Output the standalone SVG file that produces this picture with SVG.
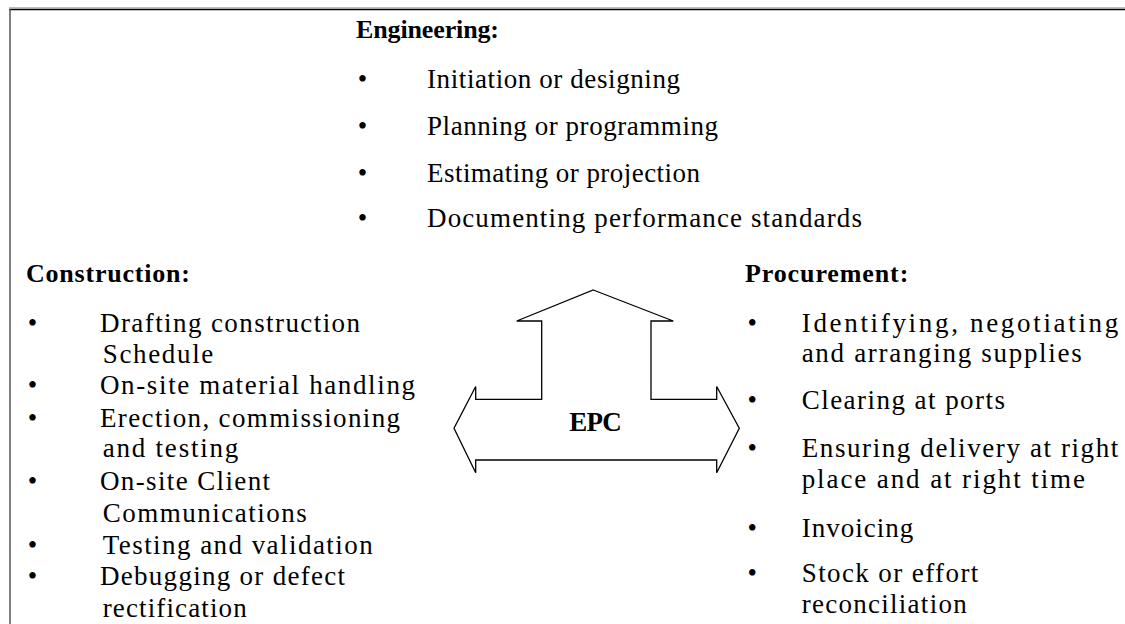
<svg xmlns="http://www.w3.org/2000/svg" width="1125" height="624" viewBox="0 0 1125 624">
<style>
text{font-family:"Liberation Serif","Times New Roman",serif;fill:#000}
.h{font-weight:bold;font-size:26px}
.t{font-size:27px}
.b{font-size:27px;text-anchor:middle}
.epc{font-weight:bold;font-size:27px;text-anchor:middle}
</style>
<rect width="1125" height="624" fill="#fff"/>
<g id="frame">
<line x1="9" y1="7.8" x2="1125" y2="7.8" stroke="#a0a0a0" stroke-width="1"/>
<line x1="9" y1="9.5" x2="1125" y2="9.5" stroke="#000" stroke-width="1.6"/>
<line x1="10" y1="9" x2="10" y2="624" stroke="#555" stroke-width="1.5"/>
</g>
<g id="engineering">
<text class="h" x="356" y="38" textLength="143" lengthAdjust="spacing">Engineering:</text>
<text class="b" x="362.5" y="88">•</text>
<text class="t" x="427" y="88" textLength="253" lengthAdjust="spacing">Initiation or designing</text>
<text class="b" x="362.5" y="135">•</text>
<text class="t" x="427" y="135" textLength="291" lengthAdjust="spacing">Planning or programming</text>
<text class="b" x="362.5" y="181.5">•</text>
<text class="t" x="427" y="181.5" textLength="273" lengthAdjust="spacing">Estimating or projection</text>
<text class="b" x="362.5" y="226.5">•</text>
<text class="t" x="427" y="226.5" textLength="435" lengthAdjust="spacing">Documenting performance standards</text>
</g>
<g id="construction">
<text class="h" x="26" y="282.3" textLength="164" lengthAdjust="spacing">Construction:</text>
<text class="b" x="32.5" y="331.7">•</text>
<text class="t" x="100" y="331.7" textLength="260" lengthAdjust="spacing">Drafting construction</text>
<text class="t" x="102.7" y="362.7" textLength="110.6" lengthAdjust="spacing">Schedule</text>
<text class="b" x="32.5" y="394.3">•</text>
<text class="t" x="100" y="394.3" textLength="315" lengthAdjust="spacing">On-site material handling</text>
<text class="b" x="32.5" y="426.7">•</text>
<text class="t" x="100" y="426.7" textLength="300" lengthAdjust="spacing">Erection, commissioning</text>
<text class="t" x="102.7" y="457.3" textLength="135.6" lengthAdjust="spacing">and testing</text>
<text class="b" x="32.5" y="490">•</text>
<text class="t" x="100" y="490" textLength="170" lengthAdjust="spacing">On-site Client</text>
<text class="t" x="102.7" y="521.7" textLength="204" lengthAdjust="spacing">Communications</text>
<text class="b" x="32.5" y="554.3">•</text>
<text class="t" x="102.7" y="554.3" textLength="270" lengthAdjust="spacing">Testing and validation</text>
<text class="b" x="32.5" y="585">•</text>
<text class="t" x="100" y="585" textLength="245" lengthAdjust="spacing">Debugging or defect</text>
<text class="t" x="102.7" y="616.7" textLength="144" lengthAdjust="spacing">rectification</text>
</g>
<g id="procurement">
<text class="h" x="745" y="282.3" textLength="163.3" lengthAdjust="spacing">Procurement:</text>
<text class="b" x="752.3" y="331.7">•</text>
<text class="t" x="801.7" y="331.7" textLength="316.6" lengthAdjust="spacing">Identifying, negotiating</text>
<text class="t" x="801.7" y="361.7" textLength="280" lengthAdjust="spacing">and arranging supplies</text>
<text class="b" x="752.3" y="409.3">•</text>
<text class="t" x="801.7" y="409.3" textLength="203.3" lengthAdjust="spacing">Clearing at ports</text>
<text class="b" x="752.3" y="456.7">•</text>
<text class="t" x="801.7" y="456.7" textLength="316.6" lengthAdjust="spacing">Ensuring delivery at right</text>
<text class="t" x="801.7" y="488.3" textLength="283.3" lengthAdjust="spacing">place and at right time</text>
<text class="b" x="752.3" y="536.7">•</text>
<text class="t" x="801.7" y="536.7" textLength="111.6" lengthAdjust="spacing">Invoicing</text>
<text class="b" x="752.3" y="581.7">•</text>
<text class="t" x="801.7" y="581.7" textLength="176.6" lengthAdjust="spacing">Stock or effort</text>
<text class="t" x="801.7" y="613.3" textLength="165" lengthAdjust="spacing">reconciliation</text>
</g>
<g id="connectors">
<path id="epc-arrow" d="M593.3,290 L673.3,321 L651,321 L651,399.3 L716.7,399.3 L716.7,386.5 L739.3,428.3 L716.7,472.7 L716.7,460 L475.7,460 L475.7,472.7 L454,428.3 L475.7,386.5 L475.7,399.3 L541.7,399.3 L541.7,321 L516.7,321 Z" fill="#fff" stroke="#000" stroke-width="1.3" stroke-linejoin="miter"/>
</g>
<g id="epc">
<text class="epc" x="595.5" y="430.7" textLength="52.4" lengthAdjust="spacing">EPC</text>
</g>
</svg>
